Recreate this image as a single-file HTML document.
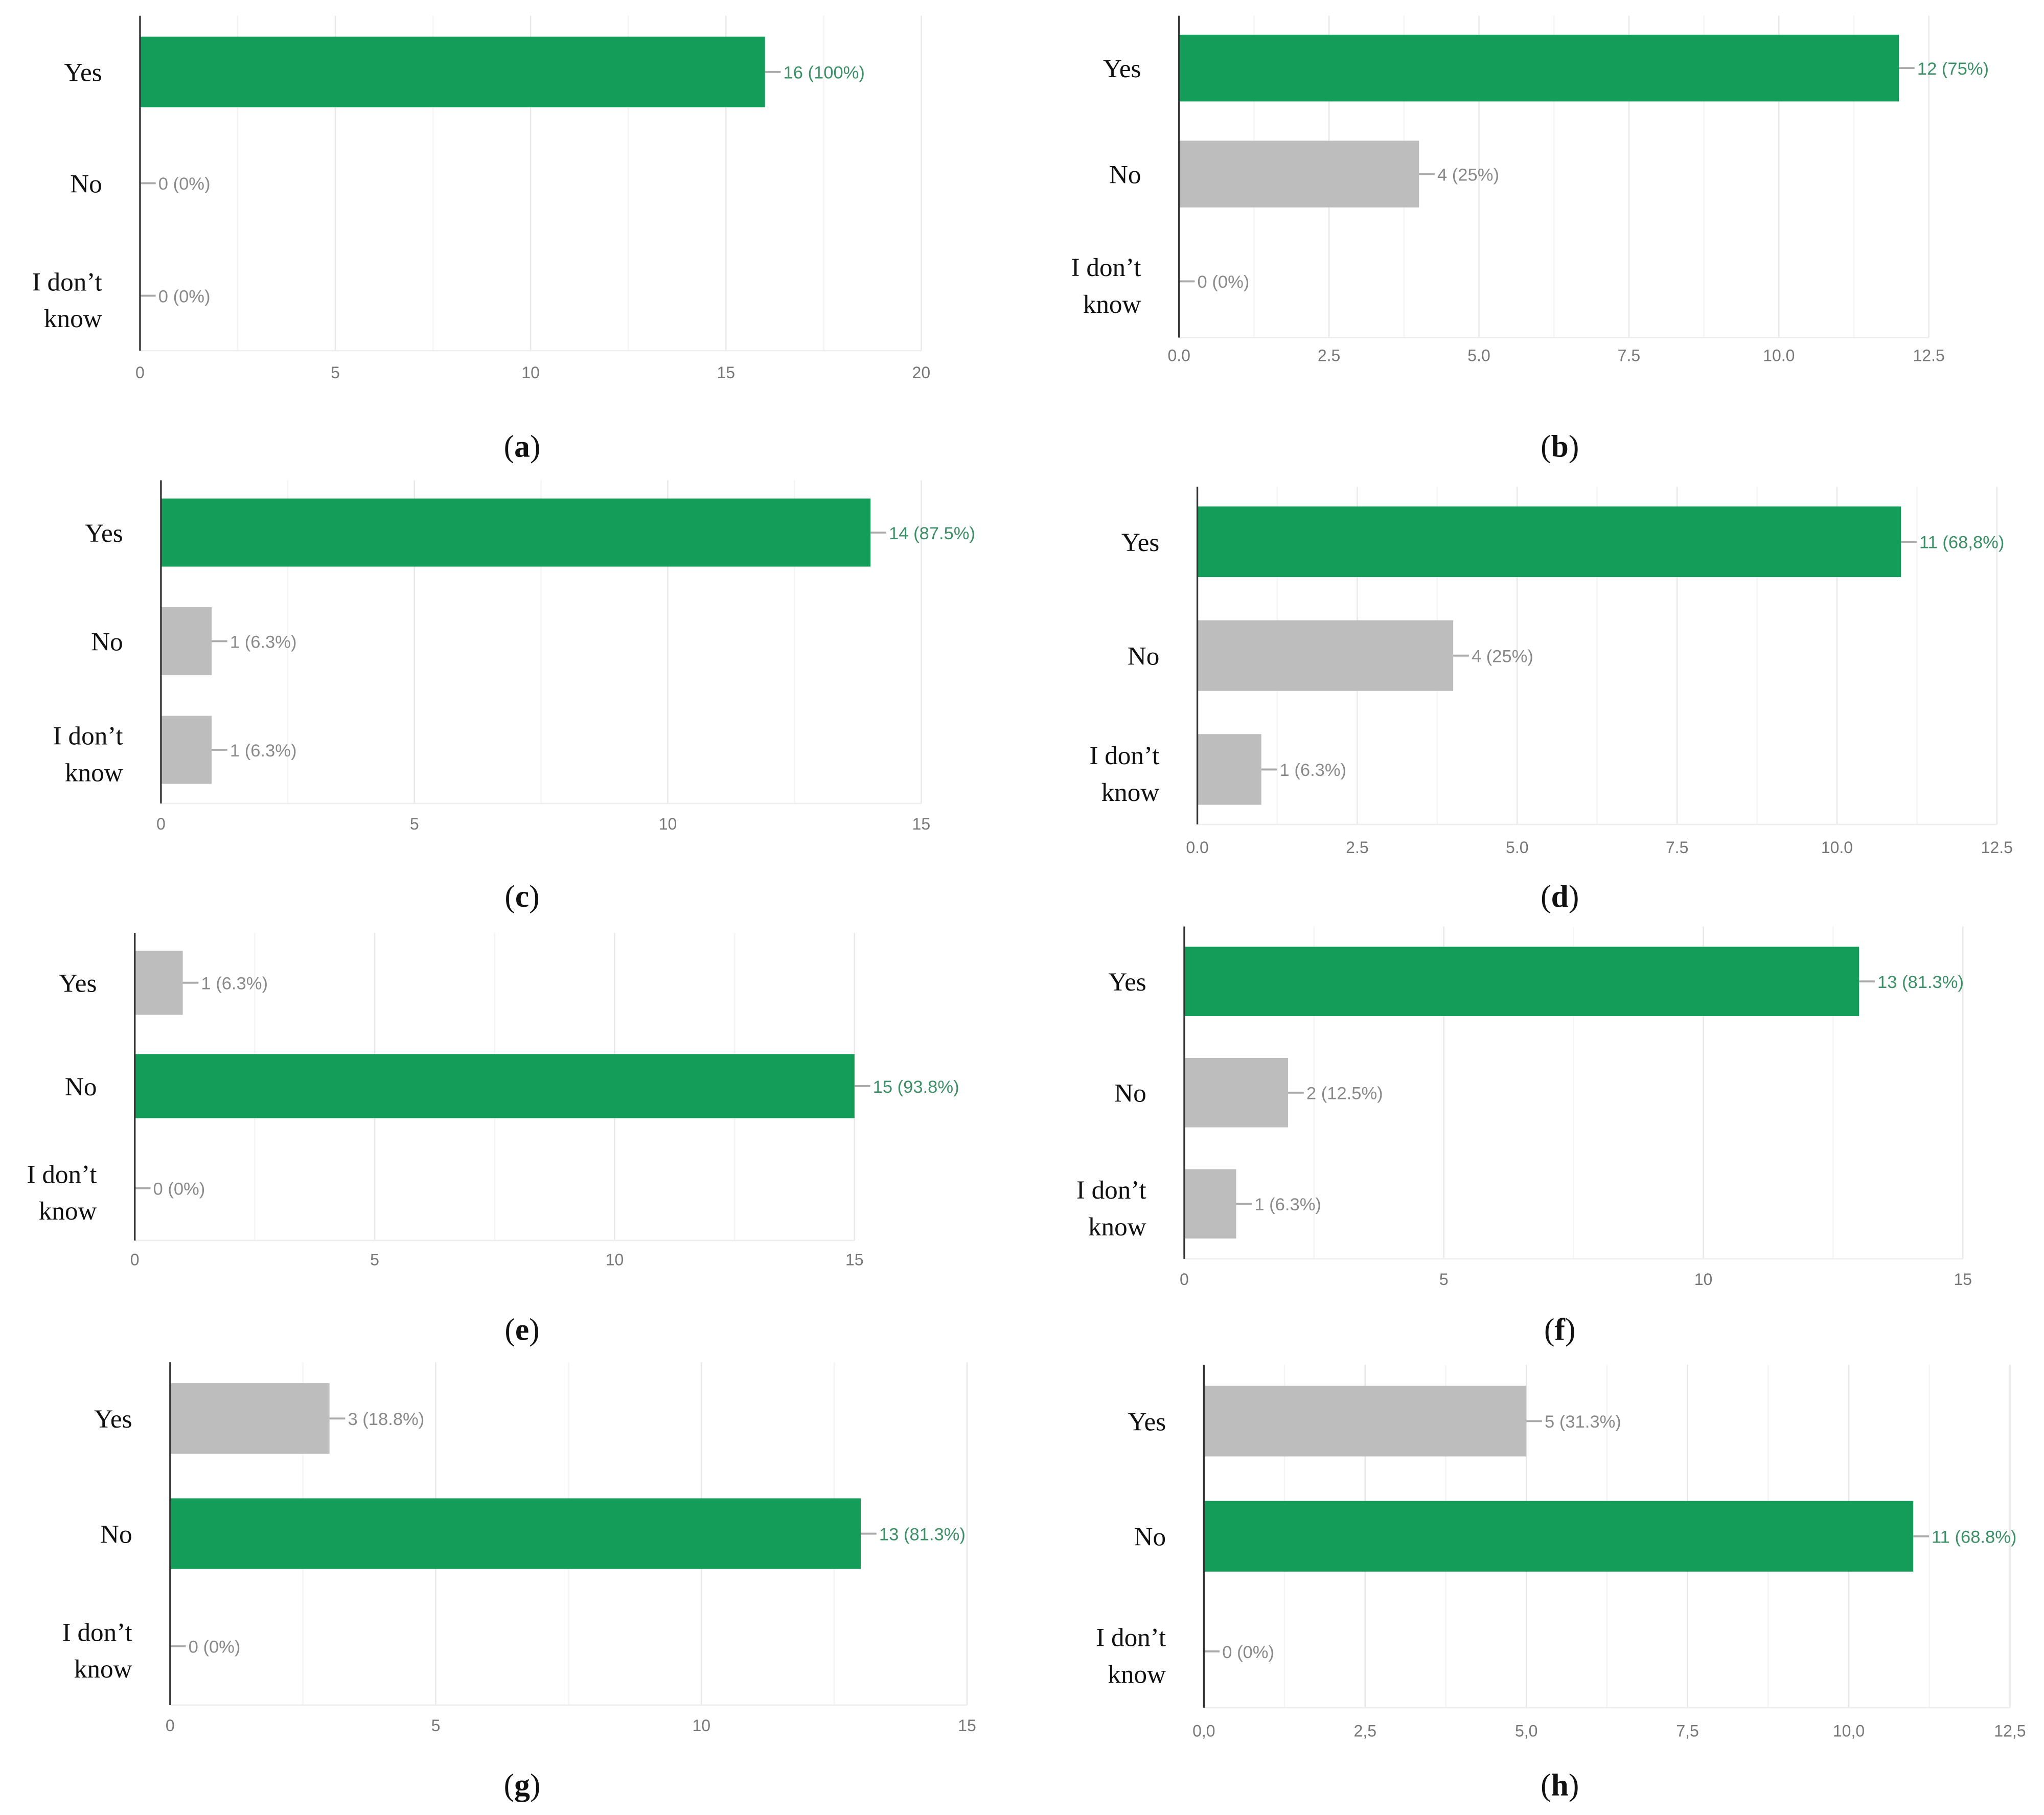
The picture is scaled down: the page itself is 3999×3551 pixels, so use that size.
<!DOCTYPE html>
<html><head><meta charset="utf-8"><style>
html,body{margin:0;padding:0;background:#fff}
svg{display:block}
</style></head><body>
<svg id="fig" width="3999" height="3551" viewBox="0 0 1562 1387" preserveAspectRatio="none" xmlns="http://www.w3.org/2000/svg"></svg>
<script>
const categories = ["Yes", "No", "I don't know"];
const panelIds = ["a","b","c","d","e","f","g","h"];
const valuesA = [16, 0, 0];
const valuesB = [12, 4, 0];
const valuesC = [14, 1, 1];
const valuesD = [11, 4, 1];
const valuesE = [1, 15, 0];
const valuesF = [13, 2, 1];
const valuesG = [3, 13, 0];
const valuesH = [5, 11, 0];
const pctA = ["100%","0%","0%"];
const pctB = ["75%","25%","0%"];
const pctC = ["87.5%","6.3%","6.3%"];
const pctD = ["68,8%","25%","6.3%"];
const pctE = ["6.3%","93.8%","0%"];
const pctF = ["81.3%","12.5%","6.3%"];
const pctG = ["18.8%","81.3%","0%"];
const pctH = ["31.3%","68.8%","0%"];
const ticksA = ["0","5","10","15","20"];
const ticksB = ["0.0","2.5","5.0","7.5","10.0","12.5"];
const ticksC = ["0","5","10","15"];
const ticksD = ["0.0","2.5","5.0","7.5","10.0","12.5"];
const ticksE = ["0","5","10","15"];
const ticksF = ["0","5","10","15"];
const ticksG = ["0","5","10","15"];
const ticksH = ["0,0","2,5","5,0","7,5","10,0","12,5"];
const allValues = [valuesA,valuesB,valuesC,valuesD,valuesE,valuesF,valuesG,valuesH];
const allPct = [pctA,pctB,pctC,pctD,pctE,pctF,pctG,pctH];
const allTicks = [ticksA,ticksB,ticksC,ticksD,ticksE,ticksF,ticksG,ticksH];

const layout = [
 {x0:107,x1:704,top:12,bot:268,c:[55,140,226],bh:54,tickY:285,capX:399,capY:342},
 {x0:901,x1:1474,top:12,bot:258,c:[52,133,215],bh:51,tickY:272,capX:1192,capY:342},
 {x0:123,x1:704,top:367,bot:614,c:[407,490,573],bh:52,tickY:630,capX:399,capY:686},
 {x0:915,x1:1526,top:372,bot:630,c:[414,501,588],bh:54,tickY:648,capX:1192,capY:686},
 {x0:103,x1:653,top:713,bot:948,c:[751,830,908],bh:49,tickY:963,capX:399,capY:1017},
 {x0:905,x1:1500,top:708,bot:962,c:[750,835,920],bh:53,tickY:978,capX:1192,capY:1017},
 {x0:130,x1:739,top:1041,bot:1303,c:[1084,1172,1258],bh:54,tickY:1319,capX:399,capY:1365},
 {x0:920,x1:1536,top:1043,bot:1305,c:[1086,1174,1262],bh:54,tickY:1323,capX:1192,capY:1365}
];
const NS="http://www.w3.org/2000/svg";
const svg=document.getElementById('fig');
function mk(tag,attrs,parent){const e=document.createElementNS(NS,tag);for(const k in attrs)e.setAttribute(k,attrs[k]);(parent||svg).appendChild(e);return e;}

allValues.forEach((vals,p)=>{
  const L=layout[p], ticks=allTicks[p], pcts=allPct[p];
  const tmax=parseFloat(ticks[ticks.length-1].replace(',','.'));
  const xs=v=>L.x0+(L.x1-L.x0)*v/tmax;
  const g=mk('g',{});
  
  
  const nT=ticks.length;
  for(let i=0;i<(nT-1)*2+1;i++){
    const v=tmax*i/((nT-1)*2);
    const gl=mk('line',{x1:xs(v),x2:xs(v),y1:L.top,y2:L.bot,stroke:i%2?'#f4f4f4':'#e8e8e8','stroke-width':1},g);
    
    
  }
  const bl=mk('line',{x1:L.x0,x2:L.x1,y1:L.bot,y2:L.bot,stroke:'#eeeeee','stroke-width':1},g);
  
  
  ticks.forEach((t,i)=>{
    const v=tmax*i/(nT-1);
    const tx=mk('text',{x:xs(v),y:L.tickY+4,'text-anchor':'middle','font-family':'Liberation Sans Narrow, Liberation Sans, sans-serif','font-size':12.5,fill:'#777'},g);
    tx.textContent=t;
    
    
  });
  const maxV=Math.max(...vals);
  vals.forEach((v,i)=>{
    const cy=L.c[i];
    const isMax=v===maxV;
    if(v>0){
      const r=mk('rect',{x:L.x0,y:cy-L.bh/2,width:xs(v)-L.x0,height:L.bh,fill:isMax?'#139d58':'#bdbdbd'},g);
      
      
    }
    const ex=xs(v);
    mk('line',{x1:ex,x2:ex+12,y1:cy,y2:cy,stroke:'#aaa','stroke-width':1.5},g);
    const vl=mk('text',{x:ex+14,y:cy+5,'font-family':'Liberation Sans Narrow, Liberation Sans, sans-serif','font-size':13.5,fill:isMax?'#3c8f66':'#8a8a8a'},g);
    vl.textContent=v+' ('+pcts[i]+')';
    
    
    const lx=L.x0-29;
    if(i<2){
      const cl=mk('text',{x:lx,y:cy+7,'text-anchor':'end','font-family':'Liberation Serif, serif','font-size':20,fill:'#111'},g);
      cl.textContent=categories[i];
      
      
    } else {
      const cl=mk('text',{x:lx,y:cy-4,'text-anchor':'end','font-family':'Liberation Serif, serif','font-size':20,fill:'#111'},g);
      cl.textContent="I don\u2019t";
      
      
      const cl2=mk('text',{x:lx,y:cy+24,'text-anchor':'end','font-family':'Liberation Serif, serif','font-size':20,fill:'#111'},g);
      cl2.textContent="know";
      
      
    }
  });
  const ax=mk('line',{x1:L.x0,x2:L.x0,y1:L.top,y2:L.bot,stroke:'#333','stroke-width':1.3},g);
  
  
  const cap=mk('text',{x:L.capX,y:L.capY+7,'text-anchor':'middle','font-family':'Liberation Serif, serif','font-size':24,fill:'#111'},g);
  cap.innerHTML='(<tspan font-weight="bold">'+panelIds[p]+'</tspan>)';
  
  
});
</script>
</body></html>
